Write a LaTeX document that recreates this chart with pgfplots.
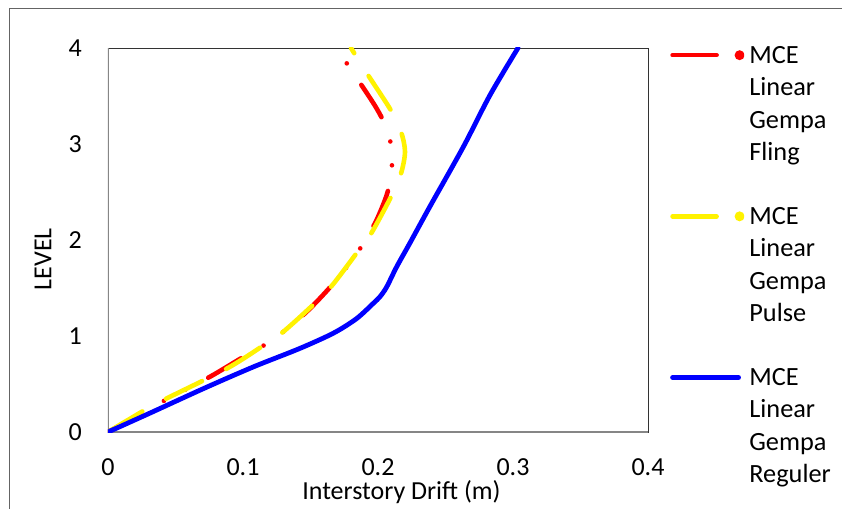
\documentclass[border=0pt]{standalone}
\usepackage{fontspec}
\setmainfont{Carlito}
\usepackage{pgfplots}
\pgfplotsset{compat=1.18}
\definecolor{axgray}{RGB}{134,134,134}
\definecolor{frgray}{RGB}{100,100,100}
\begin{document}
\fontsize{26}{32.5}\selectfont
\begin{tikzpicture}
\useasboundingbox (-108pt,-76pt) rectangle (734pt,432pt);
\draw[frgray, line width=1pt] (-98.5pt,423pt) rectangle (800pt,-120pt);
\begin{axis}[
  at={(0pt,0pt)}, anchor=south west,
  scale only axis, width=540pt, height=384pt,
  xmin=0, xmax=0.4, ymin=0, ymax=4,
  xtick={0,0.1,0.2,0.3,0.4}, ytick={0,1,2,3,4},
  major tick length=0pt,
  axis line style={black!80, line width=0.8pt},
  /pgf/number format/assume math mode=true,
  tick label style={font=\fontsize{26}{30}\selectfont, inner sep=0pt},
  xticklabel style={yshift=-26pt},
  yticklabel style={xshift=-26pt},
  xlabel={Interstory Drift (m)}, ylabel={LEVEL},
  label style={font=\fontsize{26.5}{30}\selectfont, inner sep=0pt},
  every axis x label/.style={at={(axis description cs:0.5435,-0.156)}, anchor=center},
  every axis y label/.style={at={(axis description cs:-0.1204,0.45)}, rotate=90, anchor=center},
  legend style={draw=none, fill=none, inner sep=0pt, at={(1.0407,1.0254)}, anchor=north west,
    row sep=130.5pt, column sep=3pt, font=\fontsize{26.3}{32.5}\selectfont, cells={anchor=base west}},
]
\draw[axgray, line width=2pt] (rel axis cs:0,1) -- (rel axis cs:0,0) -- (rel axis cs:1,0);
\addplot[red, line width=4.6pt, line cap=round, smooth,
  dash pattern=on 38pt off 26pt on 0pt off 24pt on 0pt off 26pt,
  legend image code/.code={\draw[red, line width=4.6pt, line cap=round, solid] (2pt,8pt)--(46pt,8pt); \fill[red] (69pt,8pt) circle (2.5pt);}]
table {
0 0
0.022 0.17
0.0435 0.34
0.0756 0.576
0.1 0.78
0.1188 0.93
0.1286 1.03
0.147 1.25
0.164 1.5
0.178 1.74
0.190 1.98
0.199 2.21
0.206 2.45
0.209 2.62
0.2106 2.88
0.2072 3.13
0.199 3.37
0.1817 3.74
0.169 4.0
};
\addlegendentry{\begin{tabular}[t]{@{}l@{}}MCE\\Linear\\Gempa\\Fling\end{tabular}}
\addplot[yellow, line width=4.6pt, line cap=round, smooth,
  dash pattern=on 40pt off 27pt,
  legend image code/.code={\draw[yellow, line width=4.6pt, line cap=round, solid] (2pt,8pt)--(46pt,8pt); \fill[yellow] (69pt,8pt) circle (2.5pt);}]
table {
0 0
0.0286 0.24
0.0435 0.35
0.0879 0.66
0.115 0.90
0.1286 1.03
0.147 1.26
0.1644 1.5
0.184 1.86
0.195 2.07
0.210 2.46
0.217 2.69
0.220 2.92
0.217 3.13
0.2096 3.35
0.1916 3.74
0.180 4.0
};
\addlegendentry{\begin{tabular}[t]{@{}l@{}}MCE\\Linear\\Gempa\\Pulse\end{tabular}}
\addplot[blue, line width=4.8pt, line cap=round, smooth,
  legend image code/.code={\draw[blue, line width=4.8pt, line cap=round] (2pt,8pt)--(68pt,8pt);}]
table {
0 0
0.030 0.19
0.072 0.46
0.108 0.68
0.142 0.87
0.167 1.03
0.184 1.18
0.1965 1.34
0.2015 1.41
0.2064 1.51
0.2138 1.72
0.2237 1.97
0.2385 2.35
0.2632 2.97
0.283 3.51
0.3037 4.0
};
\addlegendentry{\begin{tabular}[t]{@{}l@{}}MCE\\Linear\\Gempa\\Reguler\end{tabular}}
\end{axis}
\end{tikzpicture}
\end{document}
